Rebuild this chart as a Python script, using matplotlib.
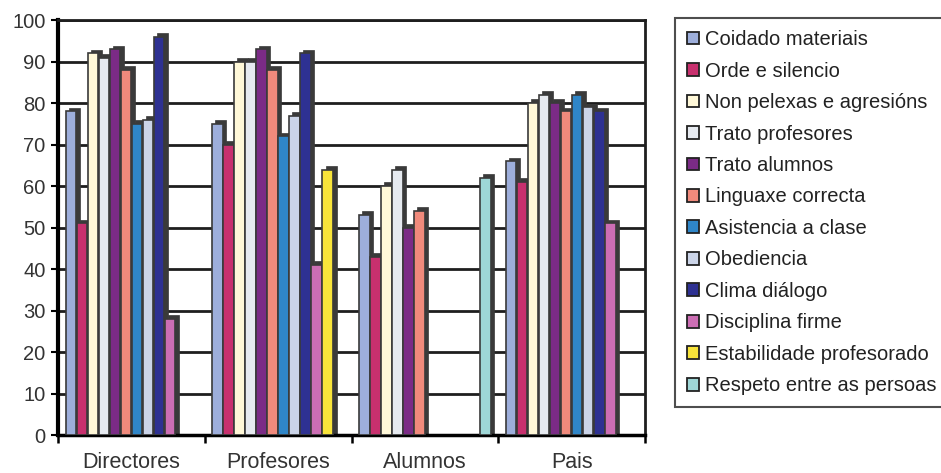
import matplotlib
matplotlib.use("Agg")
import matplotlib.pyplot as plt
import numpy as np
from matplotlib.patches import Patch

plt.rcParams['font.family'] = ['Liberation Sans', 'DejaVu Sans']

groups = ["Directores", "Profesores", "Alumnos", "Pais"]
series = ["Coidado materiais", "Orde e silencio", "Non pelexas e agresións",
          "Trato profesores", "Trato alumnos", "Linguaxe correcta",
          "Asistencia a clase", "Obediencia", "Clima diálogo",
          "Disciplina firme", "Estabilidade profesorado", "Respeto entre as persoas"]
colors = ["#9DAEDB", "#C8306E", "#FFF8D8", "#E6EAF0", "#7B2B86", "#F08A7C",
          "#2F86C8", "#CBD4E8", "#2E3192", "#CC6EB4", "#F8E43A", "#9ED6D6"]

# values per series across groups [Directores, Profesores, Alumnos, Pais]
coidado      = [78, 75, 53, 66]
orde         = [51, 70, 43, 61]
non_pelexas  = [92, 90, 60, 80]
trato_prof   = [91, 90, 64, 82]
trato_alum   = [93, 93, 50, 80]
linguaxe     = [88, 88, 54, 78]
asistencia   = [75, 72, 0, 82]
obediencia   = [76, 77, 0, 79]
clima        = [96, 92, 0, 78]
disciplina   = [28, 41, 0, 51]
estabilidade = [0, 64, 0, 0]
respeto      = [0, 0, 62, 0]
values = [coidado, orde, non_pelexas, trato_prof, trato_alum, linguaxe,
          asistencia, obediencia, clima, disciplina, estabilidade, respeto]

fig = plt.figure(figsize=(9.41, 4.73), dpi=100)
ax = fig.add_axes([0.0616, 0.0803, 0.624, 0.877])

n = len(series)
group_w = 0.9
bw = group_w / n
x = np.arange(len(groups))
for i, (vals, c) in enumerate(zip(values, colors)):
    vals = np.array(vals, dtype=float)
    pos = x - group_w / 2 + bw * (i + 0.5)
    mask = vals > 0
    # depth shadow (3D look)
    ax.bar(pos[mask] + bw * 0.3, vals[mask] + 0.9, width=bw, color="#3a3a3a",
           edgecolor="#3a3a3a", linewidth=0.5, zorder=2)
    ax.bar(pos[mask], vals[mask], width=bw * 0.95, color=c, edgecolor="#3a3a3a",
           linewidth=1.2, zorder=3)

ax.set_ylim(0, 100)
ax.set_xlim(-0.5, len(groups) - 0.5)
ax.set_yticks(np.arange(0, 101, 10))
ax.yaxis.grid(True, color="#1e1e1e", linewidth=2)
ax.set_axisbelow(True)
ax.tick_params(axis='y', labelsize=14.5, direction='out', length=5, width=1.5,
               pad=4, labelcolor="#333333")

ax.set_xticks(np.arange(-0.5, len(groups), 1.0))
ax.set_xticklabels([])
ax.set_xticks(x, minor=True)
ax.set_xticklabels(groups, minor=True, fontsize=15.5, color="#333333")
ax.tick_params(axis='x', which='major', direction='out', length=6, width=1.8)
ax.tick_params(axis='x', which='minor', length=0, pad=12)

for s in ['top', 'right']:
    ax.spines[s].set_linewidth(2)
    ax.spines[s].set_color("#1e1e1e")
ax.spines['left'].set_linewidth(3)
ax.spines['bottom'].set_linewidth(2.5)

handles = [Patch(facecolor=c, edgecolor="#222222", linewidth=1.3) for c in colors]
leg = fig.legend(handles, series, loc='upper left', bbox_to_anchor=(0.717, 0.962),
                 fontsize=14.5, frameon=True, fancybox=False, edgecolor="#222222",
                 handlelength=0.6, handleheight=0.6, handletextpad=0.3,
                 labelspacing=0.62, borderpad=0.6, borderaxespad=0)
for t in leg.get_texts():
    t.set_color("#222222")
leg.get_frame().set_linewidth(1.5)

fig.savefig("out.png", dpi=100)
